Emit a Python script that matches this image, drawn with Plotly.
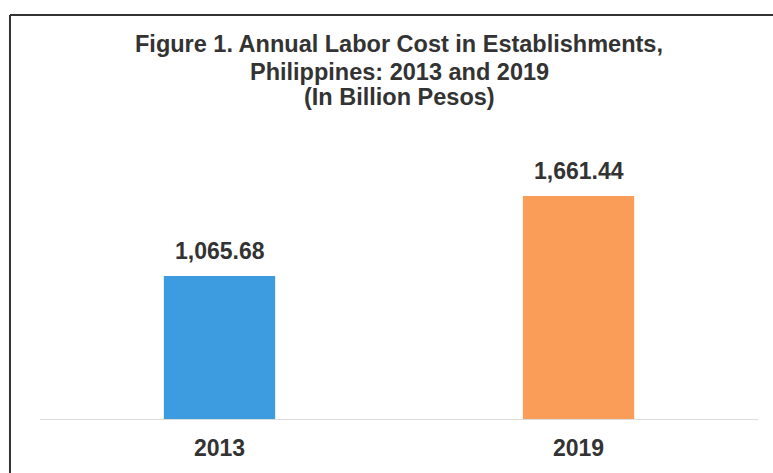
import plotly.graph_objects as go

categories = ["2013", "2019"]
values = [1065.68, 1661.44]
value_labels = ["1,065.68", "1,661.44"]
colors = ["#3d9ce0", "#fa9d58"]
title_lines = ["Figure 1. Annual Labor Cost in Establishments,",
               "Philippines: 2013 and 2019",
               "(In Billion Pesos)"]

FONT = "Liberation Sans, Arial"
fig = go.Figure()
fig.add_trace(go.Bar(
    x=categories, y=values,
    marker=dict(color=colors, line=dict(width=0)),
    width=0.31,
    hoverinfo="skip",
))

for i, (v, t) in enumerate(zip(values, value_labels)):
    fig.add_annotation(x=i, y=v, xref="x", yref="y", text="<b>%s</b>" % t, showarrow=False,
                       yanchor="bottom", yshift=10,
                       font=dict(family=FONT, size=23, color="#333333"))

for ty, line in zip([1.4045, 1.2997, 1.2059], title_lines):
    fig.add_annotation(x=0.5, y=ty, xref="paper", yref="paper", text="<b>%s</b>" % line,
                       showarrow=False, xanchor="center", yanchor="middle",
                       font=dict(family=FONT, size=23.5, color="#333333"))

fig.update_layout(
    width=773, height=473,
    margin=dict(l=40, r=15, t=152, b=49),
    paper_bgcolor="white", plot_bgcolor="white",
    showlegend=False,
    xaxis=dict(
        type="category", range=[-0.5, 1.5],
        showline=True, linecolor="#dcdcdc", linewidth=1,
        showgrid=False, zeroline=False, ticks="",
        tickfont=dict(family=FONT, size=23, color="#333333"),
        ticklabelstandoff=8,
        tickprefix="<b>", ticksuffix="</b>",
    ),
    yaxis=dict(range=[0, 1990], visible=False, showgrid=False, zeroline=False),
    shapes=[
        dict(type="line", xref="paper", yref="paper", x0=-0.0418, x1=1.05, y0=1.513, y1=1.513,
             line=dict(color="#333333", width=2)),
        dict(type="line", xref="paper", yref="paper", x0=-0.0418, x1=-0.0418, y0=1.513, y1=-0.3,
             line=dict(color="#333333", width=2)),
    ],
)

fig.write_html(
    "out.html",
    config={"displayModeBar": False},
    post_script="document.body.style.margin='0';document.body.style.overflow='hidden';",
)
